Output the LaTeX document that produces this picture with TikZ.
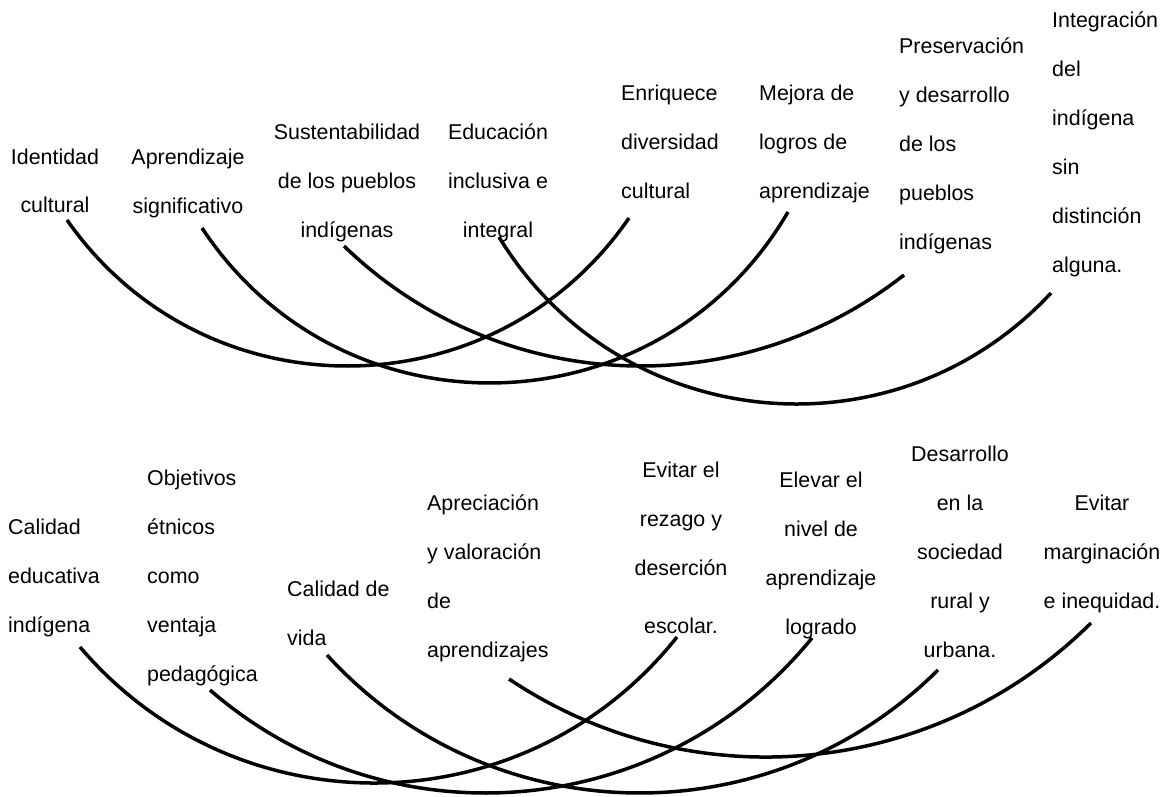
\documentclass[tikz,border=0pt]{standalone}
\usepackage{fontspec}
\setmainfont{Liberation Sans}
\begin{document}
\begin{tikzpicture}[x=1pt,y=-1pt,
  lbl/.style={inner sep=0pt, font=\fontsize{21.4}{49}\selectfont},
  lc/.style={lbl, align=center, anchor=base},
  ll/.style={lbl, align=left, anchor=base west},
  link/.style={line width=3.5pt, black}]
\useasboundingbox (0,0) rectangle (1171,797);

% top row labels (positions give the baseline of the last line)
\node[lc] (t1) at (55,213) {Identidad\\cultural};
\node[lc] (t2) at (188,214) {Aprendizaje\\significativo};
\node[lc] (t3) at (347,237) {Sustentabilidad\\de los pueblos\\indígenas};
\node[lc] (t4) at (498,237) {Educación\\inclusiva e\\integral};
\node[ll] (t5) at (621,199) {Enriquece\\diversidad\\cultural};
\node[ll] (t6) at (759,199) {Mejora de\\logros de\\aprendizaje};
\node[ll] (t7) at (899,249) {Preservación\\y desarrollo\\de los\\pueblos\\indígenas};
\node[ll] (t8) at (1052,272) {Integración\\del\\indígena\\sin\\distinción\\alguna.};

% bottom row labels
\node[ll] (b1) at (8,632) {Calidad\\educativa\\indígena};
\node[ll] (b2) at (147,681) {Objetivos\\étnicos\\como\\ventaja\\pedagógica};
\node[ll] (b3) at (287,645) {Calidad de\\vida};
\node[ll] (b4) at (427,657) {Apreciación\\y valoración\\de\\aprendizajes};
\node[lc] (b5) at (681,633) {Evitar el\\rezago y\\deserción\\[8.5pt]escolar.};
\node[lc] (b6) at (821,634) {Elevar el\\nivel de\\aprendizaje\\logrado};
\node[lc] (b7) at (960,657) {Desarrollo\\en la\\sociedad\\rural y\\urbana.};
\node[lc] (b8) at (1102,608) {Evitar\\marginación\\e inequidad.};

% arc end points
\coordinate (ts1) at (67,220);
\coordinate (ts2) at (202,228);
\coordinate (ts3) at (344,246);
\coordinate (ts4) at (499,237);
\coordinate (te1) at (629,218);
\coordinate (te2) at (788,212);
\coordinate (te3) at (904,275);
\coordinate (te4) at (1051,293);
\coordinate (bs1) at (80,647);
\coordinate (bs2) at (210,690);
\coordinate (bs3) at (327,655);
\coordinate (bs4) at (509,679);
\coordinate (be1) at (677,637);
\coordinate (be2) at (812,638);
\coordinate (be3) at (938,670);
\coordinate (be4) at (1091,623);

% top arcs
\draw[link] (ts1) .. controls +(136.8,195.5) and +(-135.4,196.5) .. (te1);
\draw[link] (ts2) .. controls +(140.9,213.4) and +(-129.0,220.8) .. (te2);
\draw[link] (ts3) .. controls +(153.2,148.2) and +(-167.7,131.6) .. (te3);
\draw[link] (ts4) .. controls +(120.0,197.0) and +(-157.1,168.9) .. (te4);

% bottom arcs
\draw[link] (bs1) .. controls +(157.8,185.4) and +(-151.5,190.5) .. (be1);
\draw[link] (bs2) .. controls +(179.4,155.7) and +(-150.0,184.1) .. (be2);
\draw[link] (bs3) .. controls +(162.3,177.9) and +(-170.8,169.7) .. (be3);
\draw[link] (bs4) .. controls +(182.7,122.3) and +(-156.0,154.8) .. (be4);
\end{tikzpicture}
\end{document}
